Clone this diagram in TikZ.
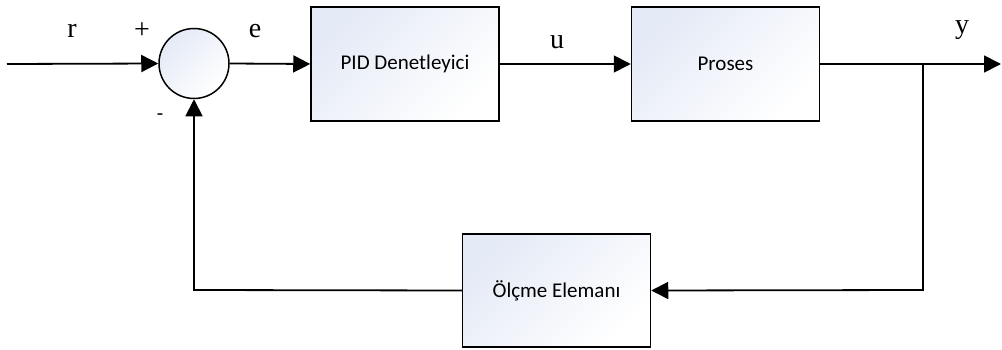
\documentclass[tikz,border=0pt]{standalone}
\usepackage{fontspec}
\setmainfont{Liberation Serif}
\newfontfamily\boxfont{Carlito}
\usetikzlibrary{arrows.meta}
\definecolor{boxtint}{HTML}{E4EAF6}
\tikzset{
  blockbox/.style={draw=black, line width=1.5pt, minimum width=188pt, minimum height=114pt,
    left color=boxtint, right color=white, shading angle=45, inner sep=0pt,
    font=\boxfont\fontsize{21}{24}\selectfont},
  sumcircle/.style={circle, draw=black, line width=1.5pt, minimum size=70pt, inner sep=0pt,
    left color=boxtint, right color=white, shading angle=45},
  wire/.style={line width=1.8pt, draw=black},
  arr/.style={wire, -{Triangle[length=17pt,width=17pt]}},
  sig/.style={font=\fontsize{28}{30}\selectfont, inner sep=0pt, anchor=base},
}
\begin{document}
\begin{tikzpicture}[x=1pt,y=1pt]
\useasboundingbox (0,0) rectangle (1002,349);
\node[sumcircle] (sum) at (194,285.5) {};
\node[blockbox] (pid) at (405,285) {PID Denetleyici};
\node[blockbox] (proc) at (725.5,285) {Proses};
\node[blockbox, minimum height=113pt] (meas) at (556.5,58.5) {Ölçme Elemanı};
\coordinate (in) at (7,285);
\coordinate (branch) at (923,285);
\coordinate (out) at (1001,285);
\coordinate (fbr) at (923,59);
\coordinate (fbl) at (194,59);
\draw[arr] (in) -- (sum.west);
\draw[arr] (sum.east) -- (pid.west);
\draw[arr] (pid.east) -- (proc.west);
\draw[arr] (proc.east) -- (out);
\draw[arr] (branch) -- (fbr) -- (meas.east);
\draw[arr] (meas.west) -- (fbl) -- (sum.south);
\node[sig] (lr) at (72,312) {r};
\node[sig] (le) at (255,312) {e};
\node[sig] (lu) at (557,301) {u};
\node[sig] (ly) at (962,316) {y};
\node[font=\fontsize{28}{30}\selectfont, inner sep=0pt] (lplus) at (142,318) {+};
\node[font=\boxfont\fontsize{21}{24}\selectfont, inner sep=0pt] (lminus) at (160,232) {-};
\end{tikzpicture}
\end{document}
